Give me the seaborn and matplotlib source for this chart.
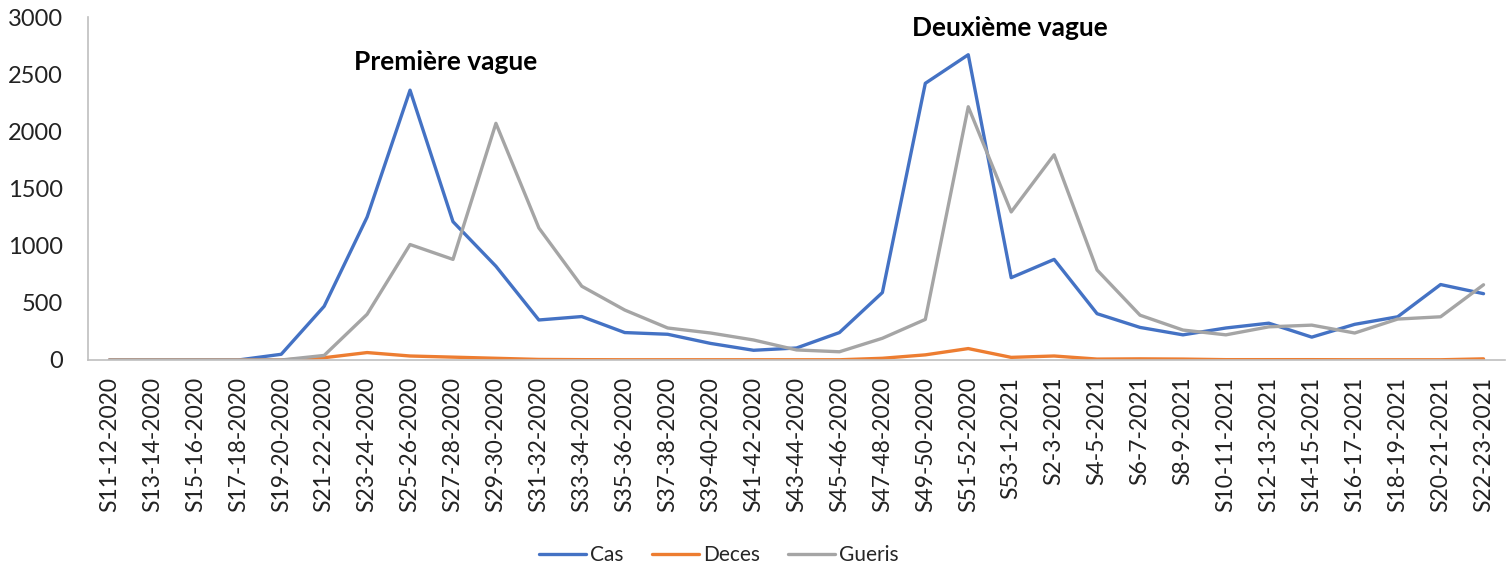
import pandas as pd
import matplotlib
matplotlib.use("Agg")
import matplotlib.pyplot as plt
import seaborn as sns

# weekly periods (x axis)
semaines = [
    "S11-12-2020", "S13-14-2020", "S15-16-2020", "S17-18-2020", "S19-20-2020",
    "S21-22-2020", "S23-24-2020", "S25-26-2020", "S27-28-2020", "S29-30-2020",
    "S31-32-2020", "S33-34-2020", "S35-36-2020", "S37-38-2020", "S39-40-2020",
    "S41-42-2020", "S43-44-2020", "S45-46-2020", "S47-48-2020", "S49-50-2020",
    "S51-52-2020", "S53-1-2021", "S2-3-2021", "S4-5-2021", "S6-7-2021",
    "S8-9-2021", "S10-11-2021", "S12-13-2021", "S14-15-2021", "S16-17-2021",
    "S18-19-2021", "S20-21-2021", "S22-23-2021",
]

cas = [0, 0, 0, 0, 50, 470, 1250, 2360, 1210, 820, 350, 380, 240, 225, 145,
       85, 105, 240, 590, 2420, 2670, 720, 880, 405, 285, 220, 280, 322, 200,
       312, 378, 660, 580]
deces = [0, 0, 0, 0, 0, 20, 65, 35, 25, 15, 5, 3, 2, 2, 2, 2, 2, 2, 15, 45,
         100, 23, 35, 8, 10, 8, 3, 3, 3, 2, 2, 2, 10]
gueris = [0, 0, 0, 0, 0, 40, 400, 1010, 880, 2070, 1155, 645, 437, 280, 236,
          175, 88, 72, 190, 355, 2215, 1295, 1795, 787, 392, 262, 220, 290,
          305, 236, 358, 378, 658]

series = ["Cas", "Deces", "Gueris"]
colors = ["#4472C4", "#ED7D31", "#A5A5A5"]

df = pd.DataFrame({"Semaine": semaines, "Cas": cas, "Deces": deces, "Gueris": gueris})
long_df = df.melt(id_vars="Semaine", var_name="Serie", value_name="Valeur")

sns.set_theme(style="white")
plt.rcParams["font.family"] = ["Lato", "DejaVu Sans"]

fig = plt.figure(figsize=(15.09, 5.71), dpi=100)
ax = fig.add_axes([88 / 1509, 211 / 571, (1505 - 88) / 1509, (360 - 17) / 571])

sns.lineplot(data=long_df, x="Semaine", y="Valeur", hue="Serie",
             hue_order=series, palette=colors, sort=False,
             linewidth=2.4, ax=ax)

ax.set_xlim(-0.5, len(semaines) - 0.5)
ax.set_ylim(0, 3000)
ax.set_yticks(range(0, 3001, 500))
ax.set_xticks(range(len(semaines)))
ax.set_xticklabels(semaines, rotation=90)
ax.set_xlabel("")
ax.set_ylabel("")
ax.tick_params(axis="y", length=0, pad=18, labelsize=17, colors="#222222")
ax.tick_params(axis="x", length=0, pad=12, labelsize=16.5, colors="#222222")

for s in ["top", "right"]:
    ax.spines[s].set_visible(False)
for s in ["left", "bottom"]:
    ax.spines[s].set_color("#BFBFBF")
    ax.spines[s].set_linewidth(1.2)

ax.text(7.84, 2607, "Première vague", ha="center", va="center",
        fontsize=19, fontweight="bold", color="black")
ax.text(20.98, 2905, "Deuxième vague", ha="center", va="center",
        fontsize=19, fontweight="bold", color="black")

leg = ax.legend(loc="center", bbox_to_anchor=(719 / 1509, 16 / 571),
                bbox_transform=fig.transFigure, ncol=3, frameon=False,
                fontsize=15, handlelength=2.25, columnspacing=1.35,
                handletextpad=0.2)

fig.savefig("out.png", dpi=100)
